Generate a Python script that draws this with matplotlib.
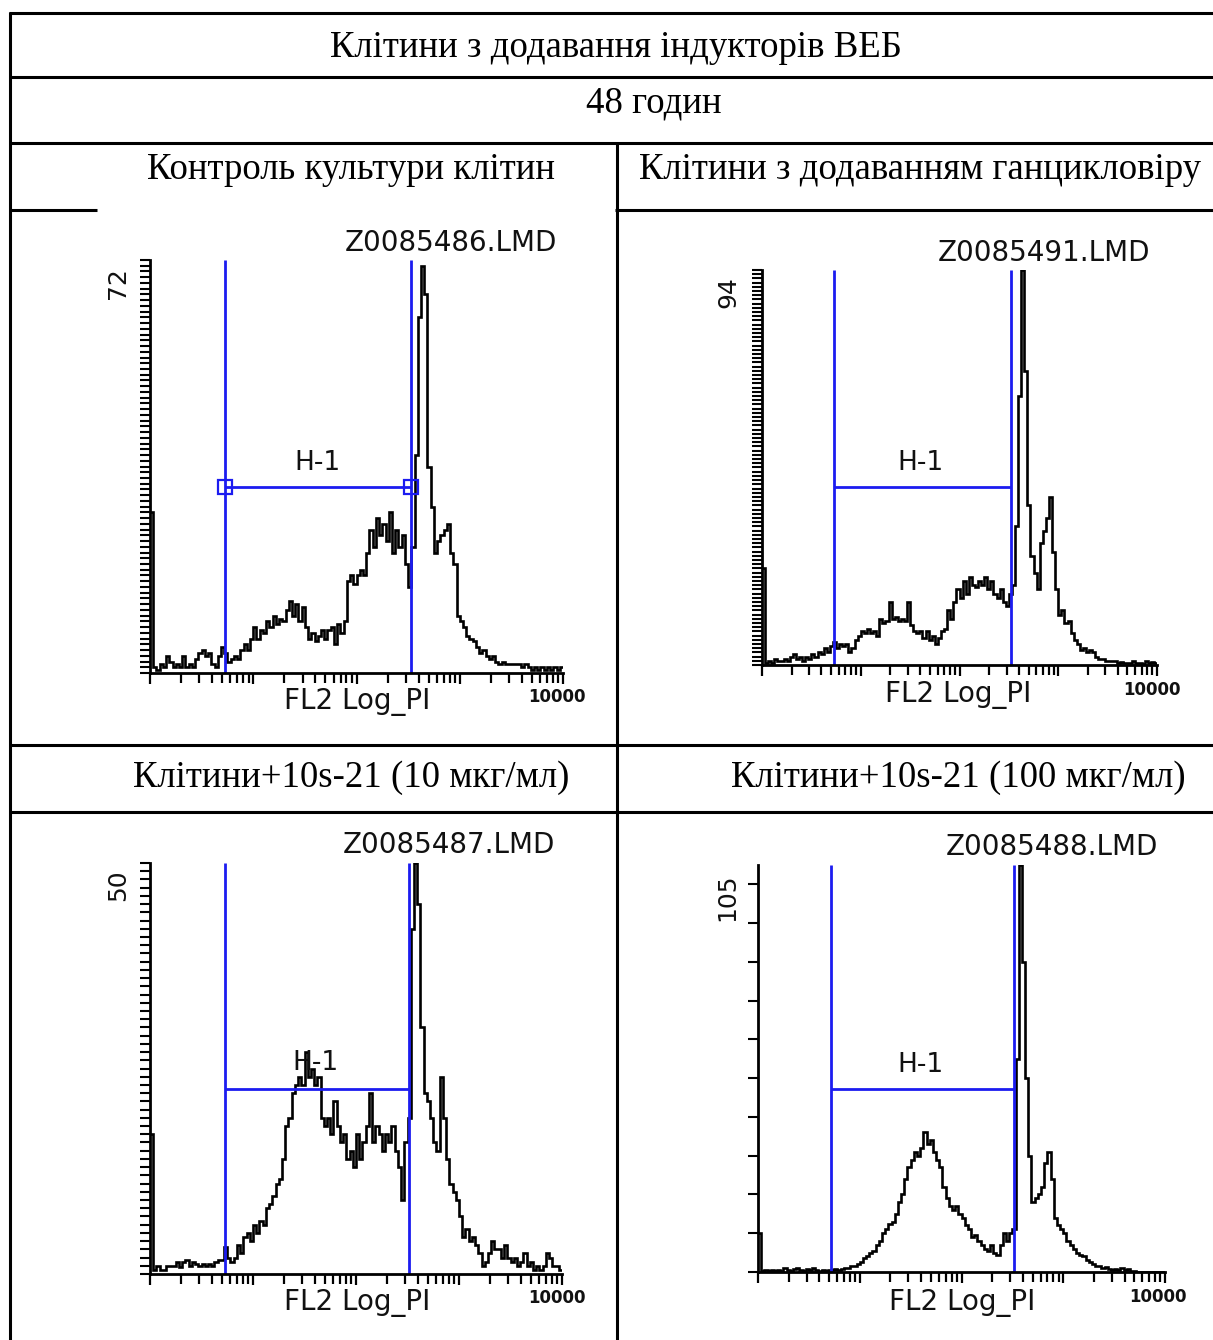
import numpy as np
import matplotlib
matplotlib.use("Agg")
import matplotlib.pyplot as plt
from matplotlib.lines import Line2D
from matplotlib.ticker import FixedLocator, LogLocator

# ---------------- data ----------------
title_text = "Клітини з додавання індукторів ВЕБ"
time_text = "48 годин"
headers = ["Контроль культури клітин", "Клітини з додаванням ганцикловіру",
           "Клітини+10s-21 (10 мкг/мл)", "Клітини+10s-21 (100 мкг/мл)"]
files = ["Z0085486.LMD", "Z0085491.LMD", "Z0085487.LMD", "Z0085488.LMD"]
ymax_labels = [72, 94, 50, 105]
x_label = "FL2 Log_PI"
x_max_label = "10000"
gate_name = "H-1"

# histogram counts, 128 log channels from 1 to 10000
counts_1 = [28, 1, 0.5, 1.5, 1, 3, 2, 1, 1.5, 1,
            3, 1, 1.5, 1, 2.5, 3.5, 4, 3, 3.5, 1.5,
            1, 3, 4.5, 3.5, 2, 2.5, 3, 2.5, 4, 5,
            4, 6, 8, 6, 7.5, 7, 9, 8, 10, 8.5,
            9.5, 9, 11, 12.5, 10, 12, 9, 11.5, 8, 6,
            7, 5.5, 6.5, 7.5, 6, 7.5, 8, 5, 8.5, 7,
            9, 16, 17, 15.5, 17, 18, 17, 21, 25, 22,
            27, 24, 26, 23, 28, 21, 25, 22, 24, 19,
            15, 22, 38, 62, 71, 66, 36, 29, 21, 23,
            24, 25, 26, 21, 19, 10, 9, 8, 6.5, 6,
            5.5, 4.5, 3.5, 4, 3, 2.5, 3, 2, 1.5, 2,
            1.5, 1.5, 1.5, 1.5, 1.5, 1, 1.5, 1, 0.5, 1,
            0.5, 1, 0.5, 1, 0.5, 1, 0.5, 1]
counts_2 = [23, 0.5, 1, 0.5, 1.5, 1, 1, 1.5, 1, 2,
            2.5, 1.5, 2, 1, 2, 1.5, 2.5, 2, 3, 2.5,
            4, 3, 4.5, 5.5, 4, 5, 4.5, 5, 3, 4,
            6, 7, 8, 7.5, 8.5, 7.5, 8, 7, 11, 10,
            10.5, 15, 11, 11.5, 10.5, 11, 10.5, 15, 9.5, 8,
            7.5, 8, 6.5, 8, 6, 7, 5, 6.5, 8, 8.5,
            13, 11, 15, 18, 16, 20, 17, 21, 19, 18.5,
            20, 19, 21, 18, 20, 17, 16, 18, 15, 14,
            17, 19, 33, 64, 94, 70, 38, 26, 22, 18,
            29, 32, 35, 40, 27, 18, 12, 13, 10, 10.5,
            7.5, 6, 5, 3.5, 4, 3, 3.5, 3, 2, 1.5,
            1.5, 1, 1, 1, 1, 0.5, 0.8, 0.5, 0.5, 0.5,
            1, 0.5, 0.5, 0.3, 1, 0.5, 0.8, 0.5]
counts_3 = [17, 0.5, 1, 0.5, 0.5, 1, 1, 1, 1.5, 0.8,
            1.5, 1.7, 1, 1.5, 1.2, 1, 1.2, 1, 1.2, 1,
            1.5, 1.7, 1.7, 3.3, 2, 1.5, 2, 3.5, 2.5, 4.5,
            5, 4, 6, 5, 6.5, 6, 8, 8.5, 9.5, 11,
            11.5, 14, 18, 19, 22, 23, 24, 23, 27, 24,
            25, 23, 24, 19, 18, 19, 17, 21, 18, 16,
            17, 14, 15, 13, 17, 14, 16, 18, 22, 16,
            18, 17, 15, 17, 16, 18, 15, 13, 9, 16,
            19, 42, 50, 45, 30, 22, 21, 19, 16, 15,
            24, 19, 14, 11, 10, 9, 7, 4.5, 5.5, 4,
            4.5, 3.5, 2.5, 1, 1.5, 2.5, 4, 3, 3, 2,
            3.5, 2, 1.5, 2, 1, 1.5, 2.5, 1, 1.5, 0.5,
            1, 0.5, 1, 2.5, 2, 1, 1, 0.5]
counts_4 = [10, 0.3, 0.5, 0.3, 0.5, 0.3, 0.5, 0.3, 1, 0.5,
            0.3, 0.8, 1, 0.5, 0.3, 0.8, 0.5, 1, 0.5, 0.3,
            0.5, 0.3, 0.5, 0.5, 0.8, 0.5, 0.8, 1, 1, 1.5,
            1.5, 2, 2.5, 3.5, 4, 5, 5.5, 7, 8, 10,
            11, 12.5, 13, 15, 18, 20, 24, 27, 29, 31,
            30, 32, 36, 33, 34, 31, 29, 27, 22, 19,
            17, 16, 17, 15, 14, 12, 11, 9, 9.5, 8,
            7, 6, 5.5, 7, 5, 4.5, 7, 10, 8, 10,
            11, 55, 105, 80, 50, 30, 18, 19, 20, 22,
            28, 31, 24, 14, 12, 11, 10, 8, 7, 6,
            5, 4.5, 4, 3, 2.5, 2, 1.5, 1.5, 1, 1.2,
            0.8, 0.5, 0.8, 0.5, 1, 0.5, 0.8, 0.3, 0.2, 0,
            0, 0, 0, 0, 0, 0, 0, 0]
all_counts = [counts_1, counts_2, counts_3, counts_4]

# gate H-1 (low, high in FL2 units; marker level in counts)
gate_low = [5.3, 5.3, 5.35, 5.27]
gate_high = [337, 333, 330, 327]
gate_level = [32.4, 42.4, 22.5, 47.3]

# ---------------- layout ----------------
W, H = 1213, 1340
fig = plt.figure(figsize=(W / 100, H / 100), dpi=100)
fig.patch.set_facecolor("white")


def fx(x):
    return x / W


def fy(y):
    return 1 - y / H


def hline(y, x0, x1, lw=2.2):
    fig.add_artist(Line2D([fx(x0), fx(x1)], [fy(y), fy(y)], transform=fig.transFigure,
                          color="black", lw=lw, solid_capstyle="butt"))


def vline(x, y0, y1, lw=2.2):
    fig.add_artist(Line2D([fx(x), fx(x)], [fy(y0), fy(y1)], transform=fig.transFigure,
                          color="black", lw=lw, solid_capstyle="butt"))


# table grid
hline(13, 9, 1213)
vline(10, 12, 1340)
hline(77, 9, 1213)
hline(143, 9, 1213)
hline(210, 9, 97)
hline(210, 615, 1213)
vline(617, 143, 1340)
hline(745, 9, 1213)
hline(812, 9, 1213)

serif = dict(family="Liberation Serif", fontsize=26.5, color="black")
fig.text(fx(616), fy(57), title_text, ha="center", va="baseline", **serif)
fig.text(fx(654), fy(113), time_text, ha="center", va="baseline", **serif)
fig.text(fx(351), fy(179), headers[0], ha="center", va="baseline", **serif)
fig.text(fx(920), fy(179), headers[1], ha="center", va="baseline", **serif)
fig.text(fx(351), fy(787), headers[2], ha="center", va="baseline", **serif)
fig.text(fx(958), fy(787), headers[3], ha="center", va="baseline", **serif)

# panel boxes in pixels: x0, x1, ytop, ybot
boxes = [(150, 563, 260, 673), (762, 1157, 270, 665),
         (150, 562, 863, 1274), (758, 1165, 865, 1272)]
ytick_steps = [1, 1, 1, 10]
# text anchors (pixels)
ylab_pos = [(118, 283), (728, 292), (118, 885), (727, 897)]
file_pos = [(557, 243), (1150, 253), (555, 845), (1158, 847)]
xlab_pos = [(357, 702), (958, 695), (357, 1303), (962, 1303)]
xmax_pos = [(557, 697), (1152, 690), (557, 1298), (1158, 1297)]
h1_pos = [(317, 463), (920, 463), (315, 1063), (920, 1065)]

blue = "#1c1cf0"
edges = np.logspace(0, 4, 129)
sans = dict(family="DejaVu Sans", color="#111111")

for i in range(4):
    x0, x1, yt, yb = boxes[i]
    ymax = ymax_labels[i]
    ax = fig.add_axes([fx(x0), fy(yb), (x1 - x0) / W, (yb - yt) / H])
    ax.set_facecolor("none")
    ax.stairs(all_counts[i], edges, color="black", lw=1.9, baseline=None)
    ax.set_xscale("log")
    ax.set_xlim(1, 1e4)
    ax.set_ylim(0, ymax)
    for s in ("top", "right"):
        ax.spines[s].set_visible(False)
    for s in ("left", "bottom"):
        ax.spines[s].set_linewidth(2)
    ax.xaxis.set_major_locator(FixedLocator([1, 10, 100, 1000, 10000]))
    ax.xaxis.set_minor_locator(LogLocator(base=10, subs=np.arange(2, 10)))
    ax.tick_params(axis="x", which="major", direction="out", length=8, width=1.6, labelbottom=False)
    ax.tick_params(axis="x", which="minor", direction="out", length=7, width=1.6, labelbottom=False)
    ax.set_yticks(np.arange(0, ymax + 0.01, ytick_steps[i]))
    ax.tick_params(axis="y", direction="out", length=7, width=1.5, labelleft=False)

    gl, gh, gy = gate_low[i], gate_high[i], gate_level[i]
    ax.vlines([gl, gh], 0, ymax, color=blue, lw=2)
    ax.hlines(gy, gl, gh, color=blue, lw=2)
    if i == 0:
        ax.plot([gl, gh], [gy, gy], "s", mfc="none", mec=blue, ms=10, mew=1.6)

    fig.text(fx(ylab_pos[i][0]), fy(ylab_pos[i][1]), str(ymax), rotation=90,
             ha="center", va="center", fontsize=18, **sans)
    fig.text(fx(file_pos[i][0]), fy(file_pos[i][1]), files[i], ha="right", va="center",
             fontsize=20, **sans)
    fig.text(fx(xlab_pos[i][0]), fy(xlab_pos[i][1]), x_label, ha="center", va="center",
             fontsize=20, **sans)
    fig.text(fx(xmax_pos[i][0]), fy(xmax_pos[i][1]), x_max_label, ha="center", va="center",
             fontsize=12, fontweight="bold", **sans)
    fig.text(fx(h1_pos[i][0]), fy(h1_pos[i][1]), gate_name, ha="center", va="center",
             fontsize=19, **sans)

fig.savefig("out.png", dpi=100, facecolor="white")
